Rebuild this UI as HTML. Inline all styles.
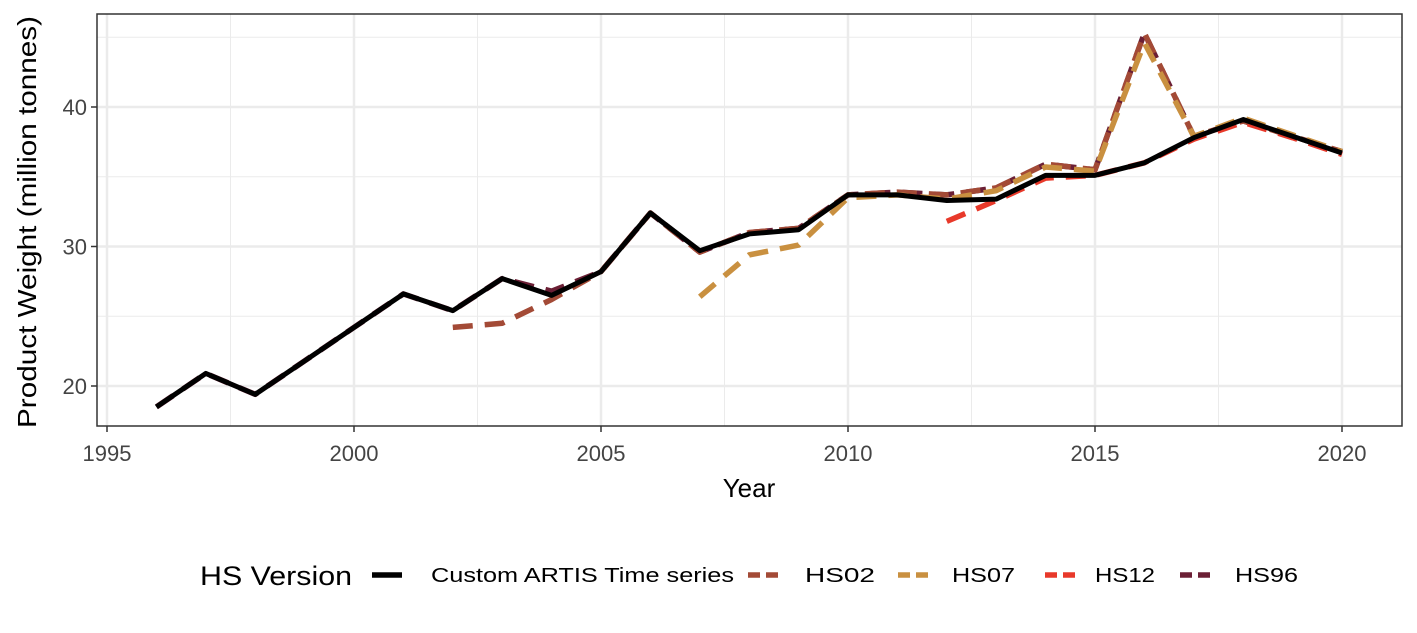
<!DOCTYPE html>
<html><head><meta charset="utf-8"><style>
html,body{margin:0;padding:0;background:#fff;}
svg text{font-family:"Liberation Sans",sans-serif;}
</style></head><body>
<svg id="chart" width="1417" height="628" xmlns="http://www.w3.org/2000/svg">
<rect x="0" y="0" width="1417" height="628" fill="#fff"/>
<g id="grid"></g>
<g id="series"></g>
<rect x="97" y="14" width="1305" height="412" fill="none" stroke="#333" stroke-width="1.5"/>
<g id="axes"></g>
<text x="749" y="497" font-size="26" text-anchor="middle" fill="#000">Year</text>
<text transform="translate(36,222) rotate(-90)" font-size="26" text-anchor="middle" fill="#000" textLength="412" lengthAdjust="spacingAndGlyphs">Product Weight (million tonnes)</text>
<g id="legend">
<text x="200" y="585" font-size="27" fill="#000" textLength="152" lengthAdjust="spacingAndGlyphs">HS Version</text>
</g>
</svg>
<script>
const years = [1996,1997,1998,1999,2000,2001,2002,2003,2004,2005,2006,2007,2008,2009,2010,2011,2012,2013,2014,2015,2016,2017,2018,2019,2020];
const customVals = [18.5,20.9,19.4,21.8,24.2,26.6,25.4,27.7,26.5,28.2,32.4,29.7,30.9,31.2,33.7,33.7,33.3,33.4,35.1,35.1,36.0,37.8,39.1,37.9,36.7];
const hs96Vals = [18.5,20.9,19.4,21.8,24.2,26.6,25.4,27.7,26.8,28.2,32.4,29.6,31.0,31.3,33.7,33.9,33.7,34.2,35.9,35.5,45.3,37.9,39.0,37.9,36.8];
const hs02Years = [2002,2003,2004,2005,2006,2007,2008,2009,2010,2011,2012,2013,2014,2015,2016,2017,2018,2019,2020];
const hs02Vals = [24.2,24.5,26.2,28.2,32.4,29.6,31.0,31.3,33.7,33.9,33.7,34.2,35.9,35.5,45.3,37.9,39.0,37.9,36.8];
const hs07Years = [2007,2008,2009,2010,2011,2012,2013,2014,2015,2016,2017,2018,2019,2020];
const hs07Vals = [26.4,29.4,30.1,33.5,33.7,33.4,34.0,35.7,35.4,44.6,37.9,39.2,38.0,36.8];
const hs12Years = [2012,2013,2014,2015,2016,2017,2018,2019,2020];
const hs12Vals = [31.8,33.3,34.9,35.1,36.0,37.7,38.9,37.8,36.6];
const xTicks = [1995,2000,2005,2010,2015,2020];
const yTicks = [20,30,40];
const legendLabels = ["Custom ARTIS Time series","HS02","HS07","HS12","HS96"];

const NS="http://www.w3.org/2000/svg";
const X=v=>107+(v-1995)*(1342-107)/25;
const Y=v=>386-(v-20)*13.95;
function mk(tag,parent,attrs){const e=document.createElementNS(NS,tag);for(const k in attrs)e.setAttribute(k,attrs[k]);parent.appendChild(e);return e;}
const grid=document.getElementById('grid'),axes=document.getElementById('axes'),ser=document.getElementById('series'),leg=document.getElementById('legend');
[1997.5,2002.5,2007.5,2012.5,2017.5].forEach(v=>{const l=mk('line',grid,{x1:X(v),x2:X(v),y1:14,y2:426,stroke:'#ebebeb','stroke-width':1});

});
[25,35,45].forEach(v=>{const l=mk('line',grid,{x1:97,x2:1402,y1:Y(v),y2:Y(v),stroke:'#ebebeb','stroke-width':1});

});
xTicks.forEach(v=>{const l=mk('line',grid,{x1:X(v),x2:X(v),y1:14,y2:426,stroke:'#ebebeb','stroke-width':2.5});


const t=mk('line',axes,{x1:X(v),x2:X(v),y1:426,y2:432,stroke:'#333','stroke-width':1.5});


const tx=mk('text',axes,{x:X(v),y:461,'font-size':22,'text-anchor':'middle',fill:'#444'});tx.textContent=v;

});
yTicks.forEach(v=>{const l=mk('line',grid,{x1:97,x2:1402,y1:Y(v),y2:Y(v),stroke:'#ebebeb','stroke-width':2.5});


const t=mk('line',axes,{x1:91,x2:97,y1:Y(v),y2:Y(v),stroke:'#333','stroke-width':1.5});


const tx=mk('text',axes,{x:87,y:Y(v)+8,'font-size':22,'text-anchor':'end',fill:'#444'});tx.textContent=v;

});
function line(xs,vs,color,dash,name){const p=mk('polyline',ser,{points:xs.map((x,i)=>X(x)+','+Y(vs[i])).join(' '),fill:'none',stroke:color,'stroke-width':dash?5.5:5,'stroke-dasharray':dash||'none','stroke-linejoin':'round'});

}
line(years,hs96Vals,'#6b1f35','20 12','hs96-line');
line(hs02Years,hs02Vals,'#a34a36','20 12','hs02-line');
line(hs07Years,hs07Vals,'#c99040','20 12','hs07-line');
line(hs12Years,hs12Vals,'#e8392a','20 12','hs12-line');
line(years,customVals,'#000',null,'custom-artis-line');
const keyX=[372,748,898,1045,1180],textX=[431,805,952,1095,1235],textW=[303,70,63,60,63];
const cols=['#000','#a34a36','#c99040','#e8392a','#6b1f35'];
legendLabels.forEach((s,i)=>{const k=mk('line',leg,{x1:keyX[i],x2:keyX[i]+30,y1:575,y2:575,stroke:cols[i],'stroke-width':5.5,'stroke-dasharray':i?'12 6':'none'});


const t=mk('text',leg,{x:textX[i],y:582,'font-size':20,fill:'#000',textLength:textW[i],lengthAdjust:'spacingAndGlyphs'});t.textContent=s;

});
</script>
</body></html>
